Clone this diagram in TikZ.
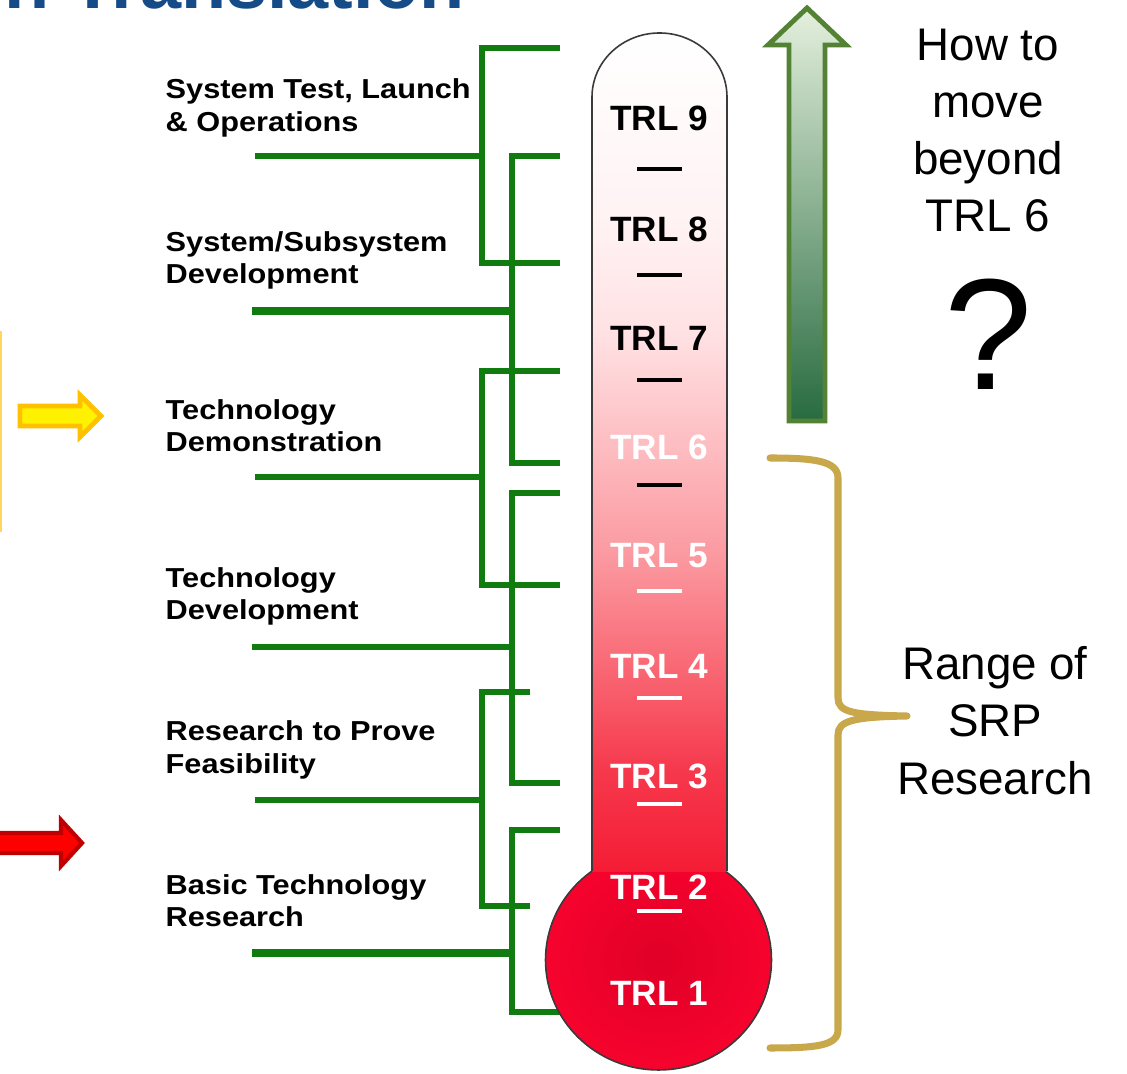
\documentclass[tikz,border=0pt]{standalone}
\usepackage{fontspec}
\setmainfont{Liberation Sans}
\newfontfamily\stagefont[FakeStretch=1.12]{Liberation Sans}
\usetikzlibrary{positioning,calc}
\definecolor{stem}{HTML}{107C10}
\definecolor{brace}{HTML}{C9A84C}
\definecolor{glass}{HTML}{3A3A3A}
\definecolor{title}{HTML}{154C87}
\definecolor{upedge}{HTML}{548235}
\definecolor{uptop}{HTML}{E4F0DD}
\definecolor{upmid}{HTML}{C9E0BE}
\definecolor{upbot}{HTML}{286B40}
\definecolor{bulbin}{HTML}{E00027}
\definecolor{bulbout}{HTML}{F6032D}
\definecolor{tubeA}{HTML}{F41C35}
\definecolor{tubeB}{HTML}{F6384C}
\definecolor{tubeC}{HTML}{F96B77}
\definecolor{tubeD}{HTML}{FB9AA1}
\definecolor{tubeE}{HTML}{FDBEC2}
\definecolor{tubeF}{HTML}{FFE1E3}
\definecolor{tubeG}{HTML}{FFF2F3}
\pgfdeclareverticalshading{tube}{100bp}{color(0bp)=(tubeA); color(25bp)=(tubeA);
  color(31bp)=(tubeB); color(37.6bp)=(tubeC); color(44bp)=(tubeD); color(50.6bp)=(tubeE);
  color(57bp)=(tubeF); color(63.5bp)=(tubeG); color(75bp)=(white); color(100bp)=(white)}
\tikzset{
  stage/.style={anchor=west, align=left, inner sep=0pt,
                font=\stagefont\bfseries\fontsize{7.8}{9.2}\selectfont},
  trl/.style={inner sep=0pt, font=\bfseries\fontsize{10}{12}\selectfont},
  trlbar/.style={line width=1.1pt},
  branch/.style={draw=stem, line width=1.45pt},
  trunk/.style={draw=stem, line width=2.3pt},
  note/.style={align=center, inner sep=0pt, font=\fontsize{13}{16.3}\selectfont},
  bulge/.style={draw=brace, line width=2pt, line cap=round, line join=round},
  outline/.style={draw=glass, line width=0.45pt}
}
\begin{document}
\begin{tikzpicture}[x=0.01cm,y=-0.01cm]
  \useasboundingbox (0,0) rectangle (1127,1074);
  \clip (0,0) rectangle (1127,1074);
  \fill[white] (0,0) rectangle (1127,1074);
  \node[anchor=base east, inner sep=0pt, text=title,
        font=\bfseries\fontsize{21}{21}\selectfont] (head) at (465,9) {n Translation};

  % stage labels and their brackets
  \node[stage] (launch) at (165,108) {System Test, Launch\\\& Operations};
  \node[stage] (subsys) at (165,260.5) {System/Subsystem\\Development};
  \node[stage] (demo) at (165,425.5) {Technology\\Demonstration};
  \node[stage] (devel) at (165,596.5) {Technology\\Development};
  \node[stage] (feas) at (165,750) {Research to Prove\\Feasibility};
  \node[stage] (basic) at (165,901) {Basic Technology\\Research};

  \draw[branch] (560,48) -| (482,263) -- (560,263);
  \draw[branch] (255,156) -- (482,156);
  \draw[branch] (560,156) -| (512,463) -- (560,463);
  \draw[trunk] (252,311) -- (512,311);
  \draw[branch] (560,371) -| (482,585) -- (560,585);
  \draw[branch] (255,477) -- (482,477);
  \draw[branch] (560,493) -| (512,783) -- (560,783);
  \draw[branch] (252,647) -- (512,647);
  \draw[branch] (530,692) -| (482,906) -- (530,906);
  \draw[branch] (255,800) -- (482,800);
  \draw[branch] (560,830) -| (512,1012) -- (566,1012);
  \draw[trunk] (252,953) -- (512,953);

  % thermometer
  \shade[inner color=bulbin, outer color=bulbout] (658.5,960) ellipse[x radius=113, y radius=110];
  \draw[outline] (658.5,960) ellipse[x radius=113, y radius=110];
  \shade[shading=tube] (592,872) -- (592,97) arc[start angle=180, end angle=360, x radius=67.5, y radius=64]
    -- (727,872) -- cycle;
  \draw[outline] (592,871) -- (592,97) arc[start angle=180, end angle=360, x radius=67.5, y radius=64]
    -- (727,871);
  \foreach \n/\y/\c in {9/118/black,8/229/black,7/338/black,6/447/white,5/556/white,
                        4/666/white,3/776/white,2/887/white,1/993/white}
    \node[trl, text=\c] (trl\n) at (659,\y) {TRL \n};
  \foreach \y/\c in {169/black,275/black,380/black,485/black,591/white,698/white,804/white,911/white}
    \draw[trlbar, draw=\c] (637,\y) -- (682,\y);

  % arrows on the left
  \draw[draw={rgb,255:red,255;green,215;blue,90}, line width=0.6pt] (1,331) -- (1,532);
  \filldraw[fill=yellow, draw={rgb,255:red,255;green,192;blue,0}, line width=1.4pt]
    (20,406) -- (80,406) -- (80,395) -- (101,416) -- (80,437) -- (80,426) -- (20,426) -- cycle;
  \filldraw[fill=red, draw={rgb,255:red,192;green,0;blue,0}, line width=1.2pt]
    (-5,833) -- (61,833) -- (61,820) -- (82,843) -- (61,866) -- (61,853) -- (-5,853) -- cycle;

  % beyond TRL 6
  \shadedraw[top color=uptop, middle color=upmid, bottom color=upbot, draw=upedge, line width=1.4pt]
    (789,421) -- (789,45) -- (768,45) -- (807,8) -- (846,45) -- (825,45) -- (825,421) -- cycle;
  \node[note] (beyond) at (988,130.5) {How to\\move\\beyond\\TRL 6};
  \node[inner sep=0pt, font=\fontsize{45}{45}\selectfont] (ask) at (988,334.5) {?};

  % SRP range
  \draw[bulge] (770,458) .. controls (815,458) and (838,461) .. (838,478) -- (838,698)
    .. controls (838,712) and (852,715) .. (907,716)
    .. controls (852,717) and (838,721) .. (838,735) -- (838,1030)
    .. controls (838,1046) and (815,1048) .. (770,1048);
  \node[note] (range) at (995,720.5) {Range of\\SRP\\Research};
\end{tikzpicture}
\end{document}
